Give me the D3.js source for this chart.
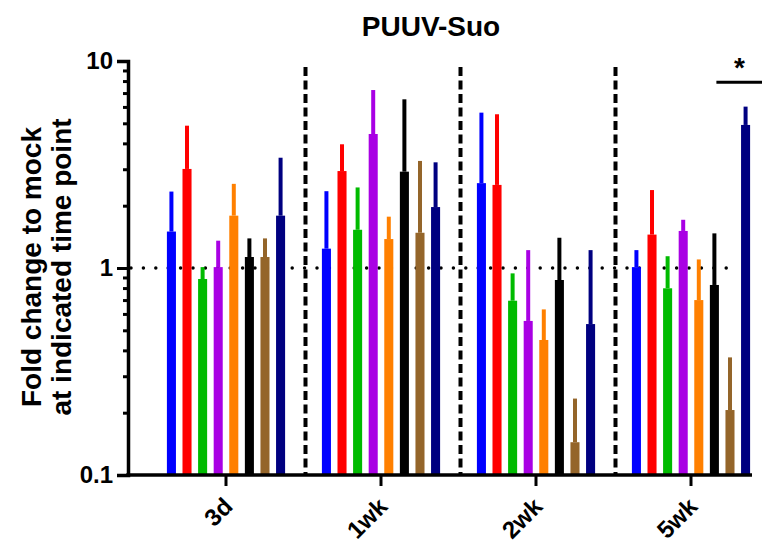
<!DOCTYPE html>
<html>
<head>
<meta charset="utf-8">
<script src="https://cdn.jsdelivr.net/npm/d3@7"></script>
<style>
  html, body { margin: 0; padding: 0; background: #fff; }
  svg { display: block; font-family: "Liberation Sans", Arial, sans-serif; }
</style>
</head>
<body>
<svg id="chart" width="762" height="543"></svg>
<script>
// ---- data ----
const groups = ["3d", "1wk", "2wk", "5wk"];
const series = ["s1", "s2", "s3", "s4", "s5", "s6", "s7", "s8"];
const colors = ["#0000FF", "#FF0000", "#00BB00", "#A900E4", "#FF8000", "#000000", "#94652A", "#000080"];
// mean fold change, per group (rows) and series (cols)
const means3d  = [1.50, 3.01, 0.885, 1.01, 1.79, 1.13, 1.13, 1.79];
const means1wk = [1.24, 2.94, 1.53, 4.44, 1.38, 2.92, 1.48, 1.97];
const means2wk = [2.57, 2.52, 0.695, 0.555, 0.449, 0.875, 0.144, 0.536];
const means5wk = [1.01, 1.45, 0.798, 1.51, 0.70, 0.828, 0.206, 4.91];
// upper end of error bar
const upper3d  = [2.34, 4.87, 1.01, 1.355, 2.55, 1.39, 1.39, 3.41];
const upper1wk = [2.35, 3.96, 2.45, 7.24, 1.77, 6.53, 3.29, 3.24];
const upper2wk = [5.63, 5.53, 0.942, 1.22, 0.631, 1.40, 0.234, 1.22];
const upper5wk = [1.22, 2.38, 1.14, 1.71, 1.10, 1.47, 0.37, 6.02];
const yMajorTicks = [0.1, 1, 10];
const yMinorTicks = [0.2,0.3,0.4,0.5,0.6,0.7,0.8,0.9,2,3,4,5,6,7,8,9];
const title = "PUUV-Suo";
const yLabel = ["Fold change to mock", "at indicated time point"];
const refLine = 1;
const sig = { group: "5wk", from: "s6", to: "s8", value: 7.9, label: "*" };

const meansAll = [means3d, means1wk, means2wk, means5wk];
const upperAll = [upper3d, upper1wk, upper2wk, upper5wk];
const rows = [];
groups.forEach((g, gi) => series.forEach((s, si) => {
  rows.push({ group: g, series: s, color: colors[si], mean: meansAll[gi][si], upper: upperAll[gi][si] });
}));

// ---- layout ----
const svg = d3.select("#chart");
const axisX = 128, axisRight = 752, yTop = 61, yBottom = 475;

const y = d3.scaleLog().domain([0.1, 10]).range([yBottom, yTop]);
const x0 = d3.scaleBand().domain(groups).range([148.5, 768.5]).paddingInner(0).paddingOuter(0);
const x1 = d3.scaleBand().domain(series).range([0, x0.bandwidth()]).paddingInner(0.42).paddingOuter(1.18);

// reference dotted line at 1 (behind bars)
svg.append("line")
  .attr("x1", axisX + 3).attr("x2", 737)
  .attr("y1", y(refLine)).attr("y2", y(refLine))
  .attr("stroke", "#000").attr("stroke-width", 3.5)
  .attr("stroke-linecap", "round").attr("stroke-dasharray", "0 12.4");

// dashed separators
groups.slice(0, -1).forEach(g => {
  const xs = x0(g) + x0.bandwidth() + 2;
  svg.append("line")
    .attr("x1", xs).attr("x2", xs)
    .attr("y1", 67).attr("y2", yBottom)
    .attr("stroke", "#000").attr("stroke-width", 4)
    .attr("stroke-dasharray", "9 4.5");
});

// bars
const barG = svg.append("g");
const errW = 4;
barG.selectAll("line.err").data(rows).join("line")
  .attr("class", "err")
  .attr("x1", d => x0(d.group) + x1(d.series) + x1.bandwidth() / 2)
  .attr("x2", d => x0(d.group) + x1(d.series) + x1.bandwidth() / 2)
  .attr("y1", d => y(d.mean)).attr("y2", d => y(d.upper))
  .attr("stroke", d => d.color).attr("stroke-width", errW);
barG.selectAll("rect").data(rows).join("rect")
  .attr("x", d => x0(d.group) + x1(d.series))
  .attr("width", x1.bandwidth())
  .attr("y", d => y(d.mean))
  .attr("height", d => yBottom - y(d.mean))
  .attr("fill", d => d.color);

// y axis
const yAxisMinor = svg.append("g").attr("transform", `translate(${axisX},0)`)
  .call(d3.axisLeft(y).tickValues(yMinorTicks).tickSize(5).tickFormat(""));
yAxisMinor.select(".domain").remove();
yAxisMinor.selectAll(".tick line").attr("stroke-width", 3);

const yAxis = svg.append("g").attr("transform", `translate(${axisX},0)`)
  .call(d3.axisLeft(y).tickValues(yMajorTicks).tickSize(11).tickPadding(4).tickFormat(d3.format("~g")));
yAxis.select(".domain").attr("stroke-width", 3.5);
yAxis.selectAll(".tick line").attr("stroke-width", 3);
yAxis.selectAll(".tick text")
  .attr("font-size", 24).attr("font-weight", "bold").attr("fill", "#000")
  .attr("font-family", "'Liberation Sans', Arial, sans-serif");

// x axis
const xAxis = svg.append("g").attr("transform", `translate(0,${yBottom})`)
  .call(d3.axisBottom(x0).tickSize(11).tickSizeOuter(0));
xAxis.select(".domain").remove();
xAxis.selectAll(".tick line").attr("stroke-width", 3);
xAxis.selectAll(".tick text")
  .attr("x", 0).attr("y", 0).attr("dy", 0)
  .attr("transform", "translate(8,33) rotate(-45)")
  .attr("text-anchor", "end")
  .attr("font-size", 24).attr("font-weight", "bold").attr("fill", "#000")
  .attr("font-family", "'Liberation Sans', Arial, sans-serif");
svg.append("line")
  .attr("x1", axisX - 1.75).attr("x2", axisRight)
  .attr("y1", yBottom).attr("y2", yBottom)
  .attr("stroke", "#000").attr("stroke-width", 3.5);

// significance
const sx1 = x0(sig.group) + x1(sig.from) + x1.bandwidth() / 2 + 2;
const sx2 = x0(sig.group) + x1(sig.to) + x1.bandwidth() / 2 + 17;
svg.append("line")
  .attr("x1", sx1).attr("x2", sx2)
  .attr("y1", y(sig.value)).attr("y2", y(sig.value))
  .attr("stroke", "#000").attr("stroke-width", 3);
svg.append("text")
  .attr("x", (sx1 + sx2) / 2).attr("y", y(sig.value) - 5)
  .attr("text-anchor", "middle")
  .attr("font-size", 28).attr("font-weight", "bold")
  .text(sig.label);

// title
svg.append("text")
  .attr("x", 431).attr("y", 36)
  .attr("text-anchor", "middle")
  .attr("font-size", 28).attr("font-weight", "bold")
  .text(title);

// y label
const yl = svg.append("text")
  .attr("transform", `translate(0,267) rotate(-90)`)
  .attr("text-anchor", "middle")
  .attr("font-size", 28).attr("font-weight", "bold");
yl.append("tspan").attr("x", 0).attr("y", 40.5).text(yLabel[0]);
yl.append("tspan").attr("x", 0).attr("y", 71).text(yLabel[1]);
</script>
</body>
</html>
